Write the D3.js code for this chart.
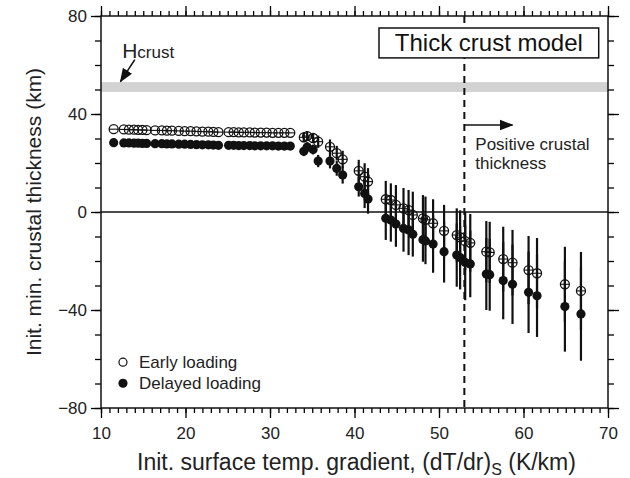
<!DOCTYPE html>
<html>
<head>
<meta charset="utf-8">
<script src="https://cdn.jsdelivr.net/npm/d3@7"></script>
<style>
body{margin:0;background:#fff;}
svg{font-family:"Liberation Sans",Arial,sans-serif;}
.axis path.domain{stroke:none;}
.axis line{stroke:#000;stroke-width:1.3;}
.axis text{font-size:17px;fill:#222;}
</style>
</head>
<body>
<div id="chart"><svg></svg></div>
<script>
// surface temperature gradient (K/km) for each model run
var xGrad = [11.5,12.7,13.3,13.9,14.4,14.9,15.4,16.4,17.2,17.8,18.4,19.2,19.9,20.6,21.3,22.0,22.7,23.3,23.9,
	25.1,25.7,26.3,26.9,27.6,28.2,28.9,29.6,30.3,31.0,31.7,32.4,
	34.0,34.4,35.1,35.7,37.1,37.9,38.6,40.5,41.2,41.6,
	43.7,44.3,44.9,45.8,46.4,46.9,48.1,48.4,49.3,50.6,52.1,52.5,53.1,53.7,
	55.6,56.0,57.6,58.7,60.6,61.6,64.9,66.8];
// init. min. crustal thickness (km), early loading
var early = [33.8,33.7,33.6,33.6,33.5,33.5,33.4,33.3,33.3,33.2,33.2,33.1,33.0,33.0,32.9,32.8,32.8,32.7,32.6,
	32.6,32.6,32.5,32.5,32.5,32.4,32.4,32.4,32.3,32.3,32.3,32.3,
	30.5,31.0,30.2,28.7,26.6,24.0,21.5,16.8,14.4,12.4,
	5.2,4.9,2.9,1.5,0.8,-1.2,-2.6,-3.2,-4.6,-7.7,-9.4,-10.3,-11.9,-12.6,
	-16.2,-16.5,-19.2,-20.7,-23.7,-25.0,-29.5,-32.2];
// delayed loading
var delayed = [28.3,28.2,28.2,28.1,28.1,28.0,28.0,27.9,27.9,27.8,27.8,27.7,27.7,27.6,27.5,27.4,27.4,27.3,27.2,
	27.2,27.2,27.1,27.1,27.1,27.0,27.0,27.0,27.0,26.9,26.9,26.9,
	24.8,26.5,25.5,20.8,20.8,17.8,15.1,10.3,7.6,5.3,
	-2.6,-3.3,-4.9,-6.7,-7.3,-9.1,-11.3,-11.8,-13.1,-16.2,-17.6,-18.6,-20.6,-21.2,
	-25.3,-25.6,-28.0,-29.5,-32.8,-34.2,-38.6,-41.6];
// error bar half widths (km)
var earlyErr = [0,0,0,0,0,0,0,0,0,0,0,0,0,0,0,0,0,0,0,
	0,0,0,0,0,0,0,0,0,0,0,0,
	2,2,2,2.5,3,3,3.5,4.5,5.5,5.5,
	7.5,6.8,8.1,8.3,8.2,9.5,9.5,9.5,9.8,10.6,10.9,11,11.9,11.8,
	12.5,12.5,13.2,13.4,13.9,14.4,15.3,15.9];
var delayedErr = [0,0,0,0,0,0,0,0,0,0,0,0,0,0,0,0,0,0,0,
	0,0,0,0,0,0,0,0,0,0,0,0,
	2,2,2,2.5,3,3,3.5,4,6,6,
	8.8,8.8,9.3,9.5,10.3,9.1,9,9.5,11.7,12.6,12.9,13,15.4,13.6,
	14.7,14.7,15.8,16.2,16.6,16.8,18.4,19.1];

var xTicks = [10,20,30,40,50,60,70];
var yTicks = [-80,-40,0,40,80];
var seriesNames = ["Early loading","Delayed loading"];
var hCrust = [49,53];     // gray band
var positiveLimit = 53;   // dashed line

var W = 630, H = 478;
var mg = {top:16, right:22, bottom:70, left:101};
var w = W - mg.left - mg.right, h = H - mg.top - mg.bottom;

var svg = d3.select("#chart > svg").attr("width", W).attr("height", H);
var g = svg.append("g").attr("transform", "translate("+mg.left+","+mg.top+")");

var x = d3.scaleLinear().domain([10,70]).range([0,w]);
var y = d3.scaleLinear().domain([-80,80]).range([h,0]);

var defs = svg.append("defs");
defs.append("marker")
	.attr("id","arrowHead")
	.attr("viewBox","0 -6 14 12")
	.attr("refX",13).attr("refY",0)
	.attr("markerWidth",14).attr("markerHeight",12)
	.attr("markerUnits","userSpaceOnUse")
	.attr("orient","auto")
	.append("path")
	.attr("d","M0,-5.5L14,0L0,5.5Z")
	.style("fill","#111");

// H crust band
g.append("rect")
	.attr("x",0).attr("width",w)
	.attr("y",y(hCrust[1])).attr("height",y(hCrust[0]) - y(hCrust[1]))
	.style("fill","#d2d2d2");

// zero line
g.append("line")
	.attr("x1",0).attr("x2",w).attr("y1",y(0)).attr("y2",y(0))
	.style("stroke","#111").style("stroke-width",1.5);

// dashed line
g.append("line")
	.attr("x1",x(positiveLimit)).attr("x2",x(positiveLimit))
	.attr("y1",0).attr("y2",h)
	.style("stroke","#111").style("stroke-width",2)
	.style("stroke-dasharray","7,5");

var pts = xGrad.map(function(d,i){
	return {x:d, e:early[i], d:delayed[i], ee:earlyErr[i], de:delayedErr[i]};
});

// error bars
var bars = g.append("g").selectAll("g").data(pts).enter().append("g");
bars.filter(function(d){return d.ee > 0;}).append("line")
	.attr("x1",function(d){return x(d.x);}).attr("x2",function(d){return x(d.x);})
	.attr("y1",function(d){return y(d.e + d.ee);}).attr("y2",function(d){return y(d.e - d.ee);})
	.style("stroke","#111").style("stroke-width",2.2);
bars.filter(function(d){return d.de > 0;}).append("line")
	.attr("x1",function(d){return x(d.x);}).attr("x2",function(d){return x(d.x);})
	.attr("y1",function(d){return y(d.d + d.de);}).attr("y2",function(d){return y(d.d - d.de);})
	.style("stroke","#111").style("stroke-width",2.2);

// delayed loading (filled)
g.append("g").selectAll("circle").data(pts).enter().append("circle")
	.attr("cx",function(d){return x(d.x);})
	.attr("cy",function(d){return y(d.d);})
	.attr("r",4.6)
	.style("fill","#111");

// early loading (open, with bar)
var em = g.append("g").selectAll("g").data(pts).enter().append("g")
	.attr("transform",function(d){return "translate("+x(d.x)+","+y(d.e)+")";});
em.append("circle").attr("r",4.5)
	.style("fill","none").style("stroke","#111").style("stroke-width",1.3);
em.append("line").attr("x1",-4.5).attr("x2",4.5)
	.style("stroke","#111").style("stroke-width",1.1);

// axes
var fmt = d3.format("d");
g.append("g").attr("class","axis")
	.call(d3.axisLeft(y).tickValues(d3.range(-80,81,10)).tickSize(6).tickFormat(""));
g.append("g").attr("class","axis")
	.call(d3.axisLeft(y).tickValues(yTicks).tickSize(10).tickPadding(4).tickFormat(fmt));
g.append("g").attr("class","axis").attr("transform","translate("+w+",0)")
	.call(d3.axisRight(y).tickValues(d3.range(-80,81,10)).tickSize(6).tickFormat(""));
g.append("g").attr("class","axis").attr("transform","translate("+w+",0)")
	.call(d3.axisRight(y).tickValues(yTicks).tickSize(11).tickFormat(""));
g.append("g").attr("class","axis").attr("transform","translate(0,"+h+")")
	.call(d3.axisBottom(x).tickValues(d3.range(10,71,1)).tickSize(5).tickFormat(""));
g.append("g").attr("class","axis").attr("transform","translate(0,"+h+")")
	.call(d3.axisBottom(x).tickValues(xTicks).tickSize(10).tickPadding(9).tickFormat(fmt));
g.append("g").attr("class","axis")
	.call(d3.axisTop(x).tickValues(d3.range(10,71,1)).tickSize(5).tickFormat(""));
g.append("g").attr("class","axis")
	.call(d3.axisTop(x).tickValues(xTicks).tickSize(10).tickFormat(""));

g.append("rect").attr("width",w).attr("height",h)
	.style("fill","none").style("stroke","#111").style("stroke-width",1.5);

// Thick crust model box
var bx0 = x(42.9), bx1 = x(68.9), by0 = y(75.1), by1 = y(62.9);
g.append("rect").attr("x",bx0).attr("y",by0).attr("width",bx1-bx0).attr("height",by1-by0)
	.style("fill","#fff").style("stroke","#111").style("stroke-width",1.5);
g.append("text").attr("x",(bx0+bx1)/2).attr("y",by1-6.5)
	.attr("text-anchor","middle").style("font-size","24px").style("fill","#111")
	.text("Thick crust model");

// H crust annotation
var hl = g.append("text").attr("x",x(12.5)).attr("y",y(62.9)).style("fill","#222");
hl.append("tspan").style("font-size","21px").text("H");
hl.append("tspan").style("font-size","17px").text("crust");
g.append("line")
	.attr("x1",x(14.0)).attr("y1",y(62.2)).attr("x2",x(12.3)).attr("y2",y(53.2))
	.style("stroke","#111").style("stroke-width",1.6)
	.attr("marker-end","url(#arrowHead)");

// positive crustal thickness annotation
g.append("line")
	.attr("x1",x(positiveLimit)).attr("y1",y(35.5)).attr("x2",x(58.7)).attr("y2",y(35.5))
	.style("stroke","#111").style("stroke-width",1.6)
	.attr("marker-end","url(#arrowHead)");
g.append("text").attr("x",x(54.3)).attr("y",y(25.5))
	.style("font-size","17px").style("fill","#222").text("Positive crustal");
g.append("text").attr("x",x(54.3)).attr("y",y(17.5))
	.style("font-size","17px").style("fill","#222").text("thickness");

// legend
var lg = g.append("g");
seriesNames.forEach(function(name,i){
	var ly = y(-61.3 - i*8.6);
	lg.append("circle").attr("cx",x(12.6)).attr("cy",ly).attr("r",4)
		.style("fill", i ? "#111" : "none").style("stroke","#111").style("stroke-width",1.2);
	lg.append("text").attr("x",x(14.5)).attr("y",ly).attr("dy","0.35em")
		.style("font-size","17px").style("fill","#222").text(name);
});

// axis titles
var xt = svg.append("text").attr("x",mg.left + w/2 + 2).attr("y",470)
	.attr("text-anchor","middle").style("font-size","23px").style("fill","#222");
xt.append("tspan").text("Init. surface temp. gradient, (dT/dr)");
xt.append("tspan").attr("dy",5).style("font-size","16px").text("S");
xt.append("tspan").attr("dy",-5).text(" (K/km)");

svg.append("text")
	.attr("transform","translate(41,"+(mg.top + h/2)+") rotate(-90)")
	.attr("text-anchor","middle").style("font-size","21px").style("fill","#222")
	.text("Init. min. crustal thickness (km)");
</script>
</body>
</html>
